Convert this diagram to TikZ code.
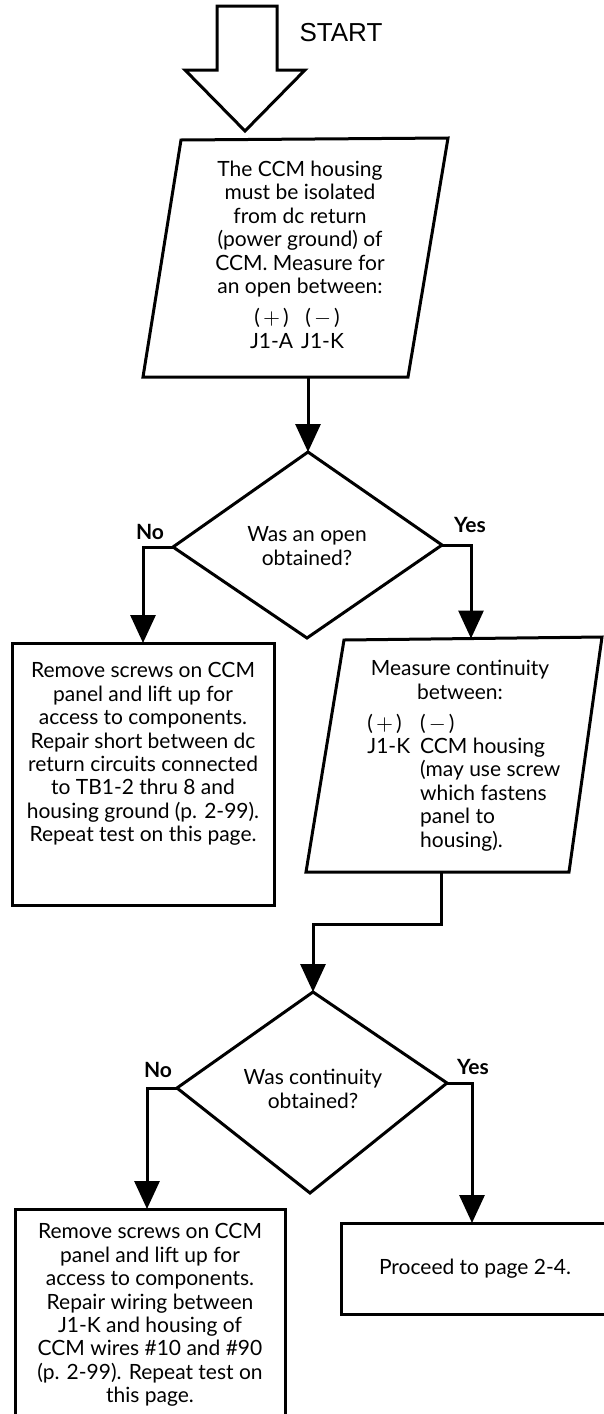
\documentclass[tikz,border=0pt]{standalone}
\usepackage{fontspec}
\setmainfont{Lato}
\newfontfamily\startfont{Liberation Sans}
\usetikzlibrary{arrows.meta}
\begin{document}
\begin{tikzpicture}[x=0.5pt,y=-0.5pt,
  outline/.style={line width=1.5pt, line join=miter},
  conn/.style={line width=1.5pt, -{Triangle[length=14pt,width=12.5pt]}},
  body/.style={font=\fontsize{10.5}{11.7}\selectfont, align=center, inner sep=0pt},
  lbl/.style={font=\fontsize{10.5}{11.7}\selectfont\bfseries, inner sep=0pt}]
\clip (0,0) rectangle (604,1414);
\fill[white] (0,0) rectangle (604,1414);

% START arrow
\draw[outline] (217,6) -- (277,6) -- (277,70) -- (305,70) -- (245,131) -- (185,70) -- (217,70) -- cycle;
\node[font=\startfont\fontsize{13}{15}\selectfont, inner sep=0pt] (start) at (341,33) {START};

% parallelogram 1
\coordinate (p1tl) at (181,140);
\coordinate (p1tr) at (448,138);
\coordinate (p1br) at (408,377);
\coordinate (p1bl) at (143,377);
\draw[outline] (p1tl) -- (p1tr) -- (p1br) -- (p1bl) -- cycle;
\node[body] (p1text) at (300,229) {The CCM housing\\must be isolated\\from dc return\\(power ground) of\\CCM. Measure for\\an open between:};
\node[body] (p1pins) at (297,332) {\begin{tabular}{@{}c@{\hspace{4pt}}c@{}}(\kern1.5pt$+$\kern1.5pt) & (\kern1.5pt$-$\kern1.5pt)\\J1-A & J1-K\end{tabular}};
\coordinate (p1out) at (308,377);

% diamond 1
\coordinate (d1t) at (308,452);
\coordinate (d1l) at (173,547);
\coordinate (d1r) at (442,545);
\coordinate (d1b) at (307,638);
\draw[outline] (d1t) -- (d1r) -- (d1b) -- (d1l) -- cycle;
\node[body] (d1text) at (307,546) {Was an open\\obtained?};
\draw[conn] (p1out) -- (d1t);
\node[lbl] (no1) at (150,532) {No};
\node[lbl] (yes1) at (470,525) {Yes};

% left box 1
\coordinate (b1tl) at (12,643);
\coordinate (b1br) at (274,905);
\draw[outline] (b1tl) rectangle (b1br);
\node[body] (b1text) at (143,754) {Remove screws on CCM\\panel and lift up for\\access to components.\\Repair short between dc\\return circuits connected\\to TB1-2 thru 8 and\\housing ground (p. 2-99).\\Repeat test on this page.};
\coordinate (b1in) at (143,643);
\draw[conn] (d1l) -- (143,547) -- (b1in);

% parallelogram 2
\coordinate (p2tl) at (344,640);
\coordinate (p2tr) at (602,637);
\coordinate (p2br) at (569,872);
\coordinate (p2bl) at (306,872);
\draw[outline] (p2tl) -- (p2tr) -- (p2br) -- (p2bl) -- cycle;
\node[body] (p2head) at (460,680) {Measure continuity\\between:};
\node[body, anchor=west] (p2pins) at (367,784) {\begin{tabular}{@{}l@{\hspace{5pt}}l@{}}(\kern1.5pt$+$\kern1.5pt) & (\kern1.5pt$-$\kern1.5pt)\\J1-K & CCM housing\\ & (may use screw\\ & which fastens\\ & panel to\\ & housing).\end{tabular}};
\coordinate (p2in) at (471,638.5);
\draw[conn] (d1r) -- (471,545) -- (p2in);
\coordinate (p2out) at (441,872);

% diamond 2
\coordinate (d2t) at (313,992);
\coordinate (d2l) at (177,1088);
\coordinate (d2r) at (447,1083);
\coordinate (d2b) at (310,1193);
\draw[outline] (d2t) -- (d2r) -- (d2b) -- (d2l) -- cycle;
\node[body] (d2text) at (313,1089) {Was continuity\\obtained?};
\draw[conn] (p2out) -- (441,924) -- (313,924) -- (d2t);
\node[lbl] (no2) at (158,1070) {No};
\node[lbl] (yes2) at (473,1067) {Yes};

% left box 2
\coordinate (b2tl) at (15,1209);
\coordinate (b2br) at (285,1430);
\draw[outline] (b2tl) rectangle (b2br);
\node[body] (b2text) at (150,1315) {Remove screws on CCM\\panel and lift up for\\access to components.\\Repair wiring between\\J1-K and housing of\\CCM wires \#10 and \#90\\(p. 2-99). Repeat test on\\this page.};
\coordinate (b2in) at (147,1209);
\draw[conn] (d2l) -- (147,1088) -- (b2in);

% right box 2
\coordinate (b3tl) at (341,1223);
\coordinate (b3br) at (615,1314);
\draw[outline] (b3tl) rectangle (b3br);
\node[body] (b3text) at (475,1269) {Proceed to page 2-4.};
\coordinate (b3in) at (472,1223);
\draw[conn] (d2r) -- (472,1083) -- (b3in);
\end{tikzpicture}
\end{document}
